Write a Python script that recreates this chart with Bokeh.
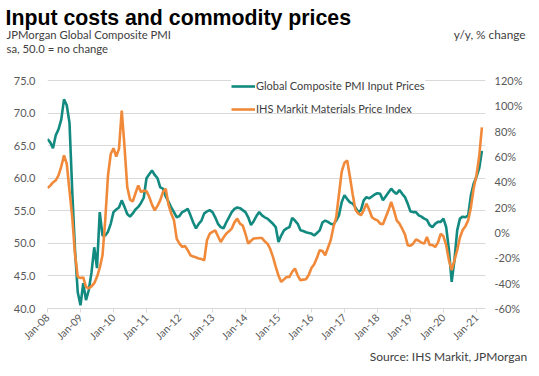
import math
from bokeh.plotting import figure
from bokeh.layouts import column
from bokeh.models import (Range1d, LinearAxis, FixedTicker, PrintfTickFormatter,
                          Label, Legend, LegendItem)
from bokeh.embed import file_html
from bokeh.resources import INLINE

# ---------------- data (monthly, Jan-08 .. Mar-21) ----------------
pmi_2008 = [66.0, 65.5, 64.6, 66.6, 67.5, 69.0, 72.1, 71.2, 68.5, 58.0, 49.0, 42.5]
pmi_2009 = [40.5, 43.9, 41.3, 42.8, 45.5, 49.4, 46.2, 54.8, 51.2, 51.2, 51.8, 53.0]
pmi_2010 = [54.8, 55.2, 55.5, 56.6, 55.6, 54.5, 54.1, 54.6, 55.2, 55.6, 56.2, 57.0]
pmi_2011 = [60.0, 60.6, 61.2, 60.5, 60.0, 58.6, 58.4, 57.2, 56.4, 55.5, 54.8, 54.0]
pmi_2012 = [54.2, 54.8, 55.0, 55.3, 54.3, 53.2, 52.3, 53.0, 53.5, 54.6, 54.9, 55.1]
pmi_2013 = [54.8, 54.0, 53.0, 52.5, 52.3, 53.2, 54.0, 54.8, 55.3, 55.5, 55.4, 55.1]
pmi_2014 = [54.8, 54.0, 52.8, 53.4, 54.2, 54.8, 54.3, 54.0, 53.8, 53.4, 53.0, 52.5]
pmi_2015 = [50.2, 51.2, 52.0, 52.3, 52.5, 53.9, 53.5, 53.0, 52.0, 51.9, 51.7, 51.6]
pmi_2016 = [51.5, 51.2, 51.6, 52.0, 53.2, 53.5, 53.3, 53.0, 52.9, 53.5, 54.3, 56.3]
pmi_2017 = [57.4, 56.8, 56.3, 56.1, 55.5, 54.8, 55.1, 56.6, 57.1, 56.9, 57.2, 57.5]
pmi_2018 = [57.7, 57.6, 56.6, 57.2, 57.8, 58.4, 57.9, 57.6, 58.2, 57.6, 57.1, 56.1]
pmi_2019 = [54.9, 54.8, 54.8, 54.3, 54.1, 53.8, 53.6, 52.8, 52.5, 53.0, 53.3, 53.3]
pmi_2020 = [53.8, 52.5, 49.0, 44.1, 47.4, 52.0, 53.8, 54.1, 54.0, 54.3, 57.4, 59.2]
pmi_2021 = [60.2, 61.5, 64.2]

mpi_2008 = [35.1, 37.0, 39.5, 41.2, 45.1, 52.0, 60.9, 54.3, 33.0, 12.0, -17.0, -35.0]
mpi_2009 = [-35.9, -35.5, -43.0, -44.0, -42.5, -40.0, -35.0, -28.0, -18.0, 10.0, 45.0, 62.0]
mpi_2010 = [66.5, 60.0, 66.0, 96.3, 68.0, 36.0, 26.0, 24.5, 31.0, 37.2, 32.0, 33.0]
mpi_2011 = [32.8, 28.0, 22.0, 17.5, 21.0, 25.4, 32.0, 34.6, 22.0, 15.0, 9.6, -5.0]
mpi_2012 = [-8.8, -11.4, -10.7, -14.0, -18.0, -19.0, -19.6, -20.5, -21.0, -21.9, -6.1, -0.9]
mpi_2013 = [0.5, 1.7, -3.0, -7.5, -4.0, -0.9, 1.0, 3.1, 8.0, 11.0, 7.0, 5.5]
mpi_2014 = [-1.0, -8.8, -6.5, -4.8, -4.6, -4.4, -4.4, -7.0, -8.8, -13.0, -19.3, -27.0]
mpi_2015 = [-34.0, -39.0, -37.0, -35.1, -35.1, -31.0, -28.4, -34.0, -37.7, -37.2, -36.9, -33.5]
mpi_2016 = [-28.0, -25.0, -20.0, -14.0, -14.6, -18.0, -12.0, -6.1, 4.4, 12.0, 30.0, 48.0]
mpi_2017 = [55.0, 56.9, 43.8, 30.0, 18.0, 15.0, 13.6, 17.5, 22.8, 18.0, 12.0, 10.5]
mpi_2018 = [9.6, 7.0, 6.5, 12.0, 17.5, 24.1, 17.5, 9.6, 7.0, 3.0, -1.5, -10.0]
mpi_2019 = [-10.5, -8.8, -5.5, -6.5, -8.0, -8.8, -3.5, -9.9, -9.9, -11.4, -8.0, -1.0]
mpi_2020 = [-3.0, -10.0, -22.0, -29.8, -22.0, -14.0, -4.0, 2.0, 5.0, 9.6, 20.0, 35.0]
mpi_2021 = [45.0, 60.0, 83.0]

pmi_input_prices = (pmi_2008 + pmi_2009 + pmi_2010 + pmi_2011 + pmi_2012 + pmi_2013 + pmi_2014
                    + pmi_2015 + pmi_2016 + pmi_2017 + pmi_2018 + pmi_2019 + pmi_2020 + pmi_2021)
materials_price_index = (mpi_2008 + mpi_2009 + mpi_2010 + mpi_2011 + mpi_2012 + mpi_2013 + mpi_2014
                         + mpi_2015 + mpi_2016 + mpi_2017 + mpi_2018 + mpi_2019 + mpi_2020 + mpi_2021)
months = list(range(len(pmi_input_prices)))  # 0 = Jan-08

x_tick_positions = [0, 12, 24, 36, 48, 60, 72, 84, 96, 108, 120, 132, 144, 156]
x_tick_labels = ["Jan-08", "Jan-09", "Jan-10", "Jan-11", "Jan-12", "Jan-13", "Jan-14",
                 "Jan-15", "Jan-16", "Jan-17", "Jan-18", "Jan-19", "Jan-20", "Jan-21"]
left_ticks = [40, 45, 50, 55, 60, 65, 70, 75]
right_ticks = [-60, -40, -20, 0, 20, 40, 60, 80, 100, 120]

title_text = "Input costs and commodity prices"
left_note_1 = "JPMorgan Global Composite PMI"
left_note_2 = "sa, 50.0 = no change"
right_note = "y/y, % change"
source_text = "Source: IHS Markit, JPMorgan"
series_names = ["Global Composite PMI Input Prices", "IHS Markit Materials Price Index"]

# ---------------- styling / layout ----------------
TEAL = "#138A80"
ORANGE = "#F08A3A"
GRID = "#D9D9D9"
LABEL = "#595959"
NOTE = "#404040"
FONT = "Lato"

W, H = 539, 376
TOP_H = 70          # header strip height
BOT_Y = 349         # footer strip starts here
FL, FR, FB = 47, 485, 308   # plot frame left/right/bottom (page px)
GRID_TOP = 80       # page y of the top gridline (75.0 / 120%)
FT = 74             # frame top (a little headroom for the legend)

left_lo, left_hi = left_ticks[0], left_ticks[-1]
right_lo, right_hi = right_ticks[0], right_ticks[-1]
pad = (GRID_TOP - FT) / (FB - GRID_TOP)
left_range = Range1d(left_lo, left_hi + pad * (left_hi - left_lo))
right_range = Range1d(right_lo, right_hi + pad * (right_hi - right_lo))


def no_align(f):
    try:
        f.frame_align = False
    except Exception:
        pass


def text_strip(height, y_top):
    f = figure(width=W, height=height, output_backend="svg", toolbar_location=None,
               x_range=Range1d(0, W), y_range=Range1d(y_top + height, y_top),
               x_axis_type=None, y_axis_type=None, min_border=0,
               min_border_left=0, min_border_right=0, min_border_top=0, min_border_bottom=0,
               title=None)
    f.outline_line_color = None
    f.background_fill_color = "white"
    f.border_fill_color = "white"
    no_align(f)
    return f


def add_text(f, txt, cx, cy, size, align="left", bold=False, font=FONT, color=NOTE):
    f.add_layout(Label(x=cx, y=cy, text=txt, text_font=font, text_font_size=size,
                       text_align=align, text_baseline="middle", text_color=color,
                       text_font_style="bold" if bold else "normal"))


# ---- header ----
head = text_strip(TOP_H, 0)
add_text(head, title_text, 5, 17, "21.3px", bold=True, font="Liberation Sans", color="#000000")
add_text(head, left_note_1, 6, 34, "11.3px")
add_text(head, left_note_2, 6, 48, "11.3px")
add_text(head, right_note, 525, 34, "11.8px", align="right")

# ---- main chart ----
p = figure(width=W, height=BOT_Y - TOP_H, output_backend="svg", toolbar_location=None,
           x_range=Range1d(0, 159.3), y_range=left_range, title=None,
           min_border_left=FL, min_border_right=W - FR,
           min_border_top=FT - TOP_H, min_border_bottom=BOT_Y - FB)
no_align(p)
p.outline_line_color = None
p.background_fill_color = "white"
p.border_fill_color = "white"
p.xgrid.grid_line_color = None
p.ygrid.grid_line_color = GRID
p.ygrid.grid_line_width = 1

ly = p.yaxis[0]
ly.ticker = FixedTicker(ticks=left_ticks)
ly.formatter = PrintfTickFormatter(format="%.1f")
ly.axis_line_color = None
ly.major_tick_line_color = None
ly.minor_tick_line_color = None
ly.major_tick_out = 0
ly.major_tick_in = 0
ly.major_label_standoff = 12
ly.major_label_text_font = FONT
ly.major_label_text_font_size = "11px"
ly.major_label_text_color = LABEL

bx = p.xaxis[0]
bx.ticker = FixedTicker(ticks=x_tick_positions)
bx.major_label_overrides = {pos: lab for pos, lab in zip(x_tick_positions, x_tick_labels)}
bx.major_label_orientation = math.pi / 4
bx.axis_line_color = GRID
bx.major_tick_line_color = GRID
bx.major_tick_out = 4
bx.major_tick_in = 0
bx.minor_tick_line_color = None
bx.major_label_standoff = 3
bx.major_label_text_font = FONT
bx.major_label_text_font_size = "10.5px"
bx.major_label_text_color = LABEL

p.extra_y_ranges = {"pct": right_range}
ry = LinearAxis(y_range_name="pct", ticker=FixedTicker(ticks=right_ticks),
                formatter=PrintfTickFormatter(format="%d%%"))
ry.axis_line_color = None
ry.major_tick_line_color = None
ry.minor_tick_line_color = None
ry.major_tick_out = 0
ry.major_tick_in = 0
ry.major_label_standoff = 9
ry.major_label_text_font = FONT
ry.major_label_text_font_size = "11px"
ry.major_label_text_color = LABEL
p.add_layout(ry, "right")

r1 = p.line(months, pmi_input_prices, line_color=TEAL, line_width=2.6)
r2 = p.line(months, materials_price_index, line_color=ORANGE, line_width=2.6, y_range_name="pct")


def legend_entry(label, renderer, center_y, filled):
    lg = Legend(items=[LegendItem(label=label, renderers=[renderer])],
                location=(231 - FL, FB - (center_y + 7)), orientation="vertical",
                border_line_color=None, background_fill_color="white",
                background_fill_alpha=1.0 if filled else 0.0,
                padding=1, spacing=0, margin=0, glyph_width=24, glyph_height=12,
                label_height=12, label_standoff=1,
                label_text_font=FONT, label_text_font_size="11px", label_text_color=NOTE)
    p.add_layout(lg)


legend_entry(series_names[0], r1, 85, True)
legend_entry(series_names[1], r2, 108, False)

# ---- footer ----
foot = text_strip(H - BOT_Y, BOT_Y)
add_text(foot, source_text, 527, 355.5, "12px", align="right")

page = column(head, p, foot, spacing=0)
open("out.html", "w").write(file_html(page, INLINE))
